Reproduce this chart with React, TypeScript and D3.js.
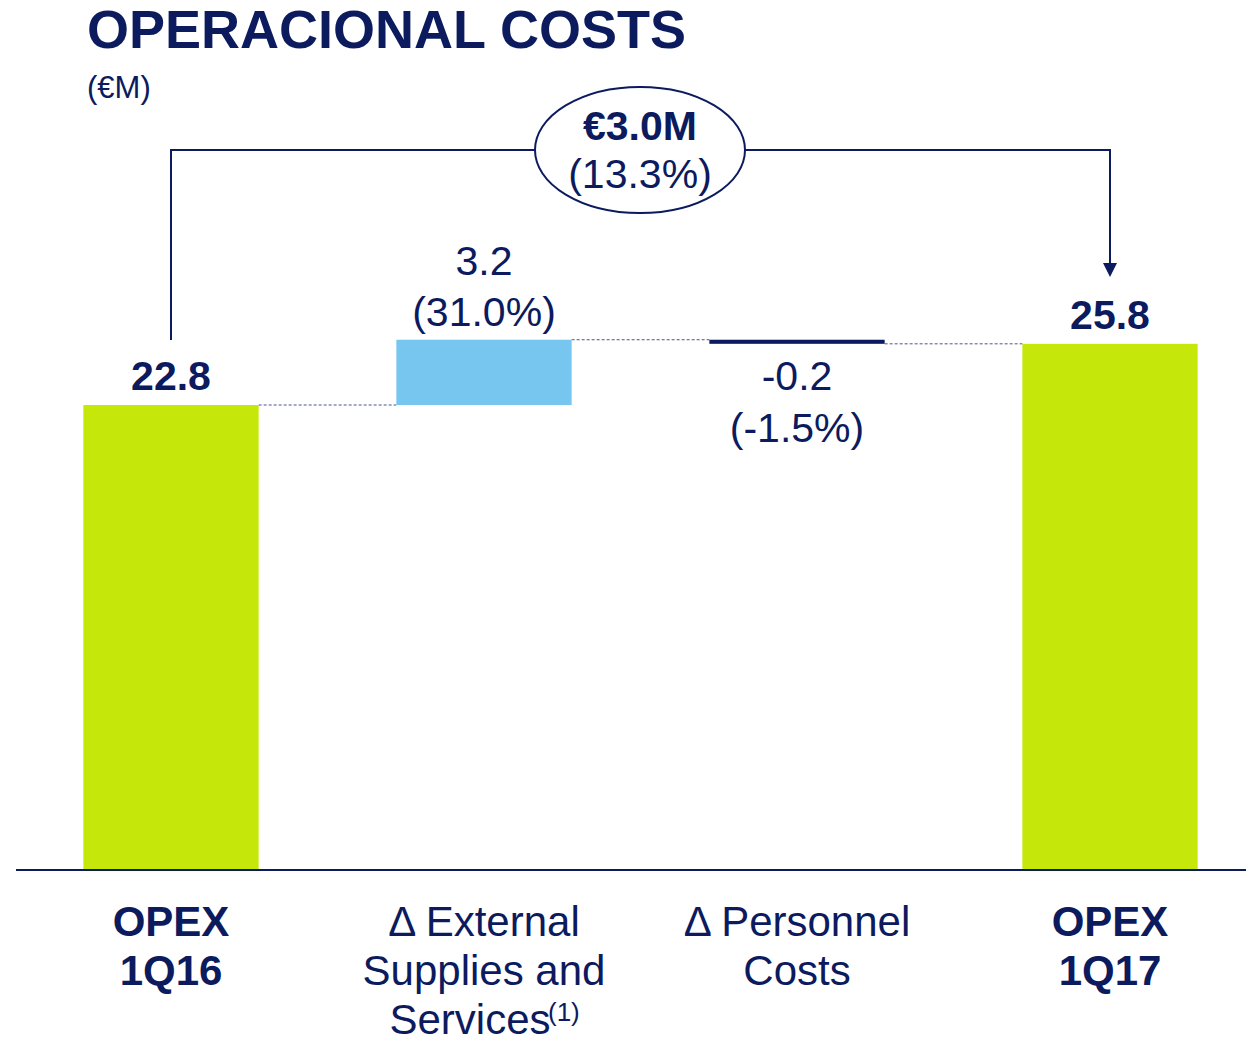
import React from 'react';
import * as d3 from 'd3';

const categories = ['OPEX 1Q16', 'Δ External Supplies and Services', 'Δ Personnel Costs', 'OPEX 1Q17'];
const values = [22.8, 3.2, -0.2, 25.8];
const kinds = ['total', 'delta', 'delta', 'total'];
const valueLabels = ['22.8', '3.2', '-0.2', '25.8'];
const pctLabels = ['', '(31.0%)', '(-1.5%)', ''];
const catLines = [['OPEX', '1Q16'], ['Δ External', 'Supplies and', 'Services'], ['Δ Personnel', 'Costs'], ['OPEX', '1Q17']];
const catBold = [true, false, false, true];
const totalChange = '€3.0M';
const totalPct = '(13.3%)';

const NAVY = '#0c1a5e';
const GREEN = '#c5e80a';
const BLUE = '#77c6f0';
const FONT = 'Liberation Sans, Arial, sans-serif';

const App = () => {
  const width = 1246;
  const height = 1043;
  const baseY = 870;

  const x = d3.scaleBand<string>()
    .domain(categories)
    .range([14.5, 1266.5])
    .paddingInner(0.44)
    .paddingOuter(0.22);

  const y = d3.scaleLinear().domain([0, 22.8]).range([baseY, 405]);

  // waterfall steps
  let run = 0;
  const bars = values.map((v, i) => {
    let lo, hi;
    if (kinds[i] === 'total') {
      lo = 0; hi = v; run = v;
    } else {
      const start = run;
      run = run + v;
      lo = Math.min(start, run); hi = Math.max(start, run);
    }
    return { cat: categories[i], lo, hi, end: run, kind: kinds[i], v };
  });

  const bw = x.bandwidth();
  const cx = (c: string) => (x(c) as number) + bw / 2;

  const colorFor = (b: any) => (b.kind === 'total' ? GREEN : b.v >= 0 ? BLUE : NAVY);

  const leftX = cx(categories[0]);
  const rightX = cx(categories[3]);
  const bracketY = 150;
  const arrowTip = 277;

  return (
    <svg width={width} height={height} style={{ position: 'absolute', left: 0, top: 0 }} fontFamily={FONT}>
      <text x={87} y={48} fontSize={54} fontWeight="bold" fill={NAVY}>OPERACIONAL COSTS</text>
      <text x={87} y={98} fontSize={31} fill={NAVY}>(€M)</text>

      {/* connectors */}
      {bars.slice(0, -1).map((b, i) => {
        const x1 = (x(b.cat) as number) + bw;
        const x2 = x(categories[i + 1]) as number;
        const yy = y(b.end);
        return <line key={'c' + i} x1={x1} x2={x2} y1={yy} y2={yy} stroke="#4a5688" strokeWidth={1} strokeDasharray="3,2" />;
      })}

      {bars.map((b, i) => (
        <rect key={'b' + i} x={x(b.cat)} y={y(b.hi)} width={bw} height={y(b.lo) - y(b.hi)} fill={colorFor(b)} />
      ))}

      <line x1={16} x2={1246} y1={baseY} y2={baseY} stroke={NAVY} strokeWidth={2} />

      {/* value labels */}
      <text x={cx(categories[0])} y={y(bars[0].hi) - 15} textAnchor="middle" fontSize={41} fontWeight="bold" fill={NAVY}>{valueLabels[0]}</text>
      <text x={cx(categories[3])} y={y(bars[3].hi) - 15} textAnchor="middle" fontSize={41} fontWeight="bold" fill={NAVY}>{valueLabels[3]}</text>
      <text x={cx(categories[1])} y={y(bars[1].hi) - 65} textAnchor="middle" fontSize={41} fill={NAVY}>{valueLabels[1]}</text>
      <text x={cx(categories[1])} y={y(bars[1].hi) - 14} textAnchor="middle" fontSize={41} fill={NAVY}>{pctLabels[1]}</text>
      <text x={cx(categories[2])} y={y(bars[2].lo) + 46} textAnchor="middle" fontSize={41} fill={NAVY}>{valueLabels[2]}</text>
      <text x={cx(categories[2])} y={y(bars[2].lo) + 98} textAnchor="middle" fontSize={41} fill={NAVY}>{pctLabels[2]}</text>

      {/* bracket */}
      <path d={`M${leftX},${y(bars[0].hi) - 65} V${bracketY} H${rightX} V${arrowTip - 12}`} fill="none" stroke={NAVY} strokeWidth={2} />
      <path d={`M${rightX - 7},${arrowTip - 14} L${rightX + 7},${arrowTip - 14} L${rightX},${arrowTip} Z`} fill={NAVY} />
      <ellipse cx={640} cy={150} rx={105} ry={63} fill="#fff" stroke={NAVY} strokeWidth={2} />
      <text x={640} y={140} textAnchor="middle" fontSize={41} fontWeight="bold" fill={NAVY}>{totalChange}</text>
      <text x={640} y={188} textAnchor="middle" fontSize={41} fill={NAVY}>{totalPct}</text>

      {/* category labels */}
      {catLines.map((lines, i) => (
        <text key={'l' + i} x={cx(categories[i])} textAnchor="middle" fontSize={42} fontWeight={catBold[i] ? 'bold' : 'normal'} fill={NAVY}>
          {lines.map((t, j) => (
            <tspan key={j} x={cx(categories[i]) - (i === 1 && j === 2 ? 14 : 0)} y={936 + j * 49}>{t}</tspan>
          ))}
        </text>
      ))}
      <text x={cx(categories[1]) + 64} y={1021} fontSize={26} fill={NAVY}>(1)</text>
    </svg>
  );
};

export default App;
